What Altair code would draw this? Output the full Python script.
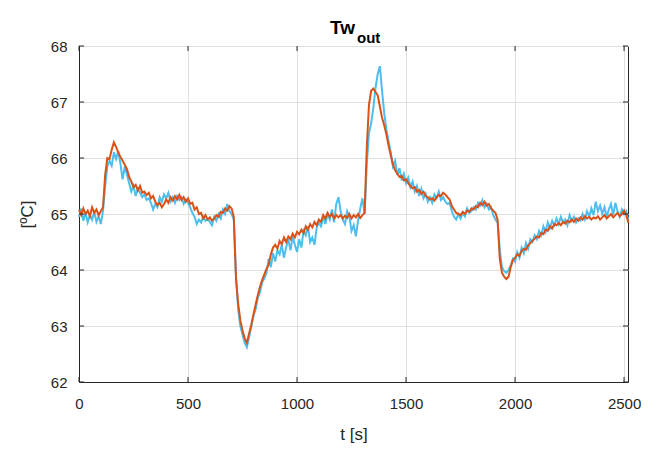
import altair as alt
import pandas as pd

# time grid (s)
t_step = 10
t_values = list(range(0, 2521, t_step))

# measured / reference series (light blue), values in degC
blue_vals = [
    64.95, 65.10, 64.88, 65.02, 64.85, 64.98, 64.90, 65.04, 64.86, 64.96,
    64.82, 65.05, 65.50, 65.85, 65.95, 65.86, 66.10, 65.98, 66.12, 65.90,
    65.62, 65.85, 65.70, 65.55, 65.40, 65.50, 65.32, 65.45, 65.38, 65.30,
    65.35, 65.25, 65.28, 65.20, 65.08, 65.18, 65.12, 65.30, 65.22, 65.35,
    65.28, 65.38, 65.22, 65.30, 65.20, 65.32, 65.25, 65.30, 65.18, 65.26,
    65.20, 65.12, 65.02, 64.95, 64.82, 64.90, 64.85, 64.95, 64.88, 64.92,
    64.86, 64.80, 64.95, 64.88, 65.00, 64.92, 65.08, 65.00, 65.18, 65.05,
    65.00, 64.90, 63.90, 63.30, 63.00, 62.85, 62.70, 62.62, 62.80, 62.98,
    63.18, 63.30, 63.50, 63.60, 63.78, 63.85, 63.95, 64.20, 64.05, 64.30,
    64.15, 64.35, 64.28, 64.45, 64.22, 64.40, 64.55, 64.35, 64.60, 64.45,
    64.32, 64.55, 64.40, 64.70, 64.62, 64.78, 64.50, 64.58, 64.45, 64.75,
    64.85, 64.78, 64.95, 64.82, 65.00, 64.90, 65.08, 64.85, 65.18, 65.30,
    65.05, 64.90, 64.82, 65.05, 64.95, 64.70, 64.80, 64.60, 64.88, 65.10,
    65.28, 65.00, 65.90, 66.45, 66.62, 66.90, 67.25, 67.50, 67.64, 67.20,
    66.80, 66.50, 66.30, 66.10, 65.85, 65.95, 65.70, 65.82, 65.60, 65.72,
    65.55, 65.65, 65.48, 65.58, 65.40, 65.50, 65.32, 65.45, 65.28, 65.36,
    65.22, 65.30, 65.20, 65.35, 65.28, 65.40, 65.25, 65.30, 65.22, 65.18,
    65.20, 65.05, 64.95, 64.90, 65.00, 64.92, 65.02, 64.96, 65.10, 65.02,
    65.05, 65.12, 65.08, 65.20, 65.15, 65.25, 65.12, 65.18, 65.08, 65.12,
    64.98, 64.90, 64.85, 64.35, 64.05, 63.98, 63.95, 64.00, 64.08, 64.20,
    64.15, 64.32, 64.22, 64.40, 64.30, 64.48, 64.38, 64.55, 64.50, 64.62,
    64.55, 64.70, 64.62, 64.78, 64.68, 64.85, 64.75, 64.88, 64.80, 64.92,
    64.82, 64.95, 64.85, 64.90, 64.80, 64.98, 64.88, 64.95, 64.85, 64.92,
    64.88, 65.00, 64.90, 65.05, 64.95, 65.10, 64.98, 65.22, 65.05, 65.15,
    65.00, 65.12, 64.95, 65.08, 65.18, 64.98, 65.20, 65.05, 64.95, 65.08,
    65.00, 65.05, 64.88,
]

# model series (orange), values in degC
orange_vals = [
    65.08, 64.98, 65.10, 65.00, 65.06, 64.96, 65.12, 65.02, 65.08, 64.98,
    65.05, 65.12, 65.70, 66.00, 65.98, 66.15, 66.28, 66.20, 66.10, 66.02,
    65.95, 65.88, 65.80, 65.66, 65.58, 65.48, 65.52, 65.42, 65.50, 65.38,
    65.40, 65.34, 65.38, 65.28, 65.32, 65.22, 65.16, 65.20, 65.12, 65.18,
    65.26, 65.20, 65.30, 65.24, 65.32, 65.26, 65.34, 65.25, 65.30, 65.22,
    65.28, 65.18, 65.20, 65.08, 65.12, 65.00, 65.02, 64.92, 64.98, 64.90,
    64.94, 64.88, 64.92, 64.98, 64.95, 65.04, 65.02, 65.10, 65.06, 65.14,
    65.10, 64.95, 63.85, 63.40, 63.10, 62.92, 62.78, 62.70, 62.86, 63.02,
    63.20, 63.38, 63.55, 63.70, 63.82, 63.92, 64.02, 64.10, 64.28, 64.40,
    64.45, 64.38, 64.52, 64.46, 64.58, 64.50, 64.60, 64.55, 64.65, 64.58,
    64.68, 64.64, 64.72, 64.66, 64.78, 64.72, 64.82, 64.76, 64.86, 64.80,
    64.90, 64.86, 64.98, 64.92, 65.02, 64.95, 65.00, 64.92, 64.98, 64.94,
    64.98, 64.92, 64.97, 64.93, 65.00, 64.92, 64.98, 64.94, 65.00, 64.93,
    64.98, 65.02, 66.20, 66.95, 67.20, 67.24, 67.18, 67.12, 66.92, 66.72,
    66.58, 66.42, 66.22, 66.05, 65.88, 65.78, 65.72, 65.66, 65.68, 65.60,
    65.62, 65.55, 65.50, 65.46, 65.48, 65.40, 65.43, 65.36, 65.40, 65.32,
    65.30, 65.26, 65.28, 65.24, 65.30, 65.34, 65.32, 65.38, 65.35, 65.30,
    65.26, 65.14, 65.08, 65.02, 65.00, 64.98, 65.04, 65.00, 65.06, 65.04,
    65.10, 65.08, 65.14, 65.12, 65.20, 65.16, 65.22, 65.15, 65.18, 65.10,
    65.06, 65.02, 64.90, 64.20, 63.95, 63.88, 63.84, 63.88, 64.05, 64.18,
    64.22, 64.28, 64.25, 64.34, 64.38, 64.36, 64.44, 64.48, 64.52, 64.56,
    64.60, 64.58, 64.66, 64.64, 64.72, 64.70, 64.78, 64.74, 64.82, 64.80,
    64.84, 64.80, 64.86, 64.83, 64.88, 64.85, 64.90, 64.86, 64.92, 64.88,
    64.94, 64.90, 64.96, 64.92, 64.95, 64.90, 64.94, 64.92, 64.96, 64.90,
    64.94, 64.98, 64.92, 64.96, 65.00, 64.94, 64.98, 65.02, 64.96, 65.00,
    65.06, 64.98, 64.84,
]

x_ticks = [0, 500, 1000, 1500, 2000, 2500]
y_ticks = [62, 63, 64, 65, 66, 67, 68]
x_domain = [0, 2518]
y_domain = [62, 68]

W, H = 549, 336
FONT = "Liberation Sans"
AXC = "#262626"

blue_df = pd.DataFrame({"t": t_values, "v": blue_vals})
orange_df = pd.DataFrame({"t": t_values, "v": orange_vals})
xt_df = pd.DataFrame({"t": x_ticks})
yt_df = pd.DataFrame({"v": y_ticks})

xscale = alt.Scale(domain=x_domain, nice=False, zero=False)
yscale = alt.Scale(domain=y_domain, nice=False, zero=False)

x_axis = alt.Axis(values=x_ticks, format="d", title="t [s]", grid=True, gridColor="#DFDFDF",
                  ticks=False, domainColor=AXC, labelColor=AXC, labelFontSize=15,
                  labelFont=FONT, labelPadding=14, titleFont=FONT, titleFontSize=17,
                  titleFontWeight="normal", titleColor=AXC, titlePadding=15,
                  labelFlush=False)
y_axis = alt.Axis(values=y_ticks, format="d", title="[ºC]", grid=True, gridColor="#DFDFDF",
                  ticks=False, domainColor=AXC, labelColor=AXC, labelFontSize=15,
                  labelFont=FONT, labelPadding=12, titleFont=FONT, titleFontSize=17,
                  titleFontWeight="normal", titleColor=AXC, titlePadding=14)

X = alt.X("t:Q", scale=xscale, axis=x_axis)
Y = alt.Y("v:Q", scale=yscale, axis=y_axis)

blue = alt.Chart(blue_df).mark_line(color="#4DBEEE", strokeWidth=2).encode(x=X, y=Y)
orange = alt.Chart(orange_df).mark_line(color="#D95319", strokeWidth=2).encode(x=X, y=Y)

tick_len = 5
xt_bottom = alt.Chart(xt_df).mark_rule(color=AXC, strokeWidth=1).encode(
    x=X, y=alt.value(H), y2=alt.value(H - tick_len))
xt_top = alt.Chart(xt_df).mark_rule(color=AXC, strokeWidth=1).encode(
    x=X, y=alt.value(0), y2=alt.value(tick_len))
yt_left = alt.Chart(yt_df).mark_rule(color=AXC, strokeWidth=1).encode(
    y=Y, x=alt.value(0), x2=alt.value(tick_len))
yt_right = alt.Chart(yt_df).mark_rule(color=AXC, strokeWidth=1).encode(
    y=Y, x=alt.value(W), x2=alt.value(W - tick_len))

title_main = alt.Chart(pd.DataFrame({"s": ["Tw"]})).mark_text(
    font=FONT, fontSize=19, fontWeight="bold", align="right", baseline="alphabetic",
    color="#000000").encode(text="s:N", x=alt.value(276), y=alt.value(-12))
title_sub = alt.Chart(pd.DataFrame({"s": ["out"]})).mark_text(
    font=FONT, fontSize=15, fontWeight="bold", align="left", baseline="alphabetic",
    color="#000000").encode(text="s:N", x=alt.value(278), y=alt.value(-3))

chart = alt.layer(
    blue, orange, xt_bottom, xt_top, yt_left, yt_right, title_main, title_sub
).properties(
    width=W, height=H,
    autosize=alt.AutoSizeParams(type="none"),
    padding={"left": 79, "top": 46, "right": 30, "bottom": 69},
    background="white",
).configure_view(stroke=AXC, strokeWidth=1)

chart.save("out.html", embed_options={"renderer": "svg", "actions": False})
